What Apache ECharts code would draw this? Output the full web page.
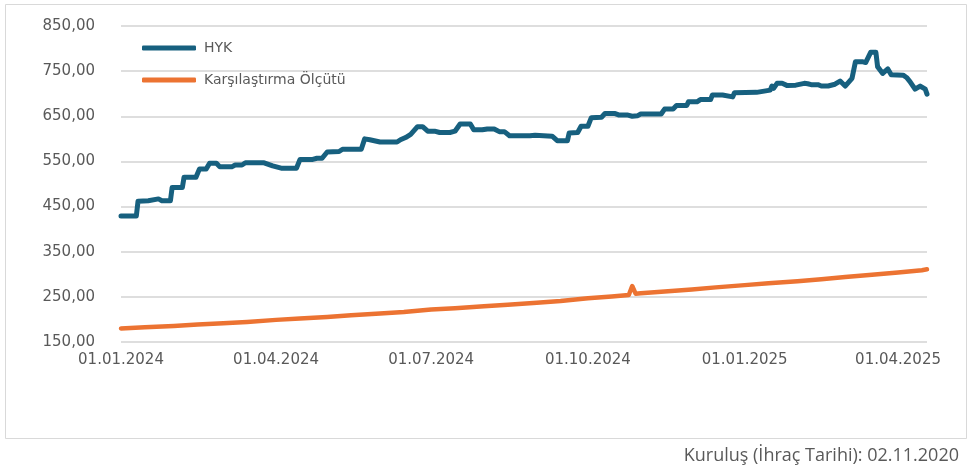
<!DOCTYPE html>
<html>
<head>
<meta charset="utf-8">
<script src="https://cdn.jsdelivr.net/npm/echarts@6/dist/echarts.min.js"></script>
<style>
  html, body { margin: 0; padding: 0; background: #ffffff; }
  #chart { width: 967px; height: 466px; }
</style>
</head>
<body>
<div id="chart"></div>
<script>
// Fund price (HYK), observation dates and values
const hykDates = [
  '2024-01-01','2024-01-10','2024-01-11','2024-01-17','2024-01-18','2024-01-23','2024-01-25','2024-01-30',
  '2024-01-31','2024-02-06','2024-02-07','2024-02-14','2024-02-16','2024-02-20','2024-02-22','2024-02-26',
  '2024-02-28','2024-03-06','2024-03-08','2024-03-12','2024-03-14','2024-03-25','2024-03-30','2024-04-04',
  '2024-04-13','2024-04-15','2024-04-22','2024-04-25','2024-04-28','2024-05-01','2024-05-08','2024-05-10',
  '2024-05-21','2024-05-23','2024-05-26','2024-06-01','2024-06-11','2024-06-13','2024-06-16','2024-06-19',
  '2024-06-23','2024-06-26','2024-06-29','2024-07-03','2024-07-06','2024-07-12','2024-07-15','2024-07-16',
  '2024-07-18','2024-07-24','2024-07-26','2024-07-31','2024-08-03','2024-08-07','2024-08-10','2024-08-13',
  '2024-08-16','2024-08-28','2024-08-29','2024-08-31','2024-09-10','2024-09-13','2024-09-19','2024-09-20',
  '2024-09-25','2024-09-27','2024-10-01','2024-10-03','2024-10-09','2024-10-11','2024-10-17','2024-10-19',
  '2024-10-24','2024-10-27','2024-10-30','2024-11-01','2024-11-13','2024-11-15','2024-11-20','2024-11-22',
  '2024-11-28','2024-11-29','2024-12-04','2024-12-06','2024-12-12','2024-12-13','2024-12-19','2024-12-20',
  '2024-12-25','2024-12-26','2025-01-08','2025-01-09','2025-01-16','2025-01-17','2025-01-18','2025-01-20',
  '2025-01-23','2025-01-26','2025-01-31','2025-02-05','2025-02-07','2025-02-09','2025-02-13','2025-02-15',
  '2025-02-19','2025-02-20','2025-02-23','2025-02-26','2025-03-01','2025-03-05','2025-03-07','2025-03-11',
  '2025-03-13','2025-03-16','2025-03-19','2025-03-20','2025-03-23','2025-03-26','2025-03-28','2025-04-04',
  '2025-04-06','2025-04-08','2025-04-11','2025-04-14','2025-04-17','2025-04-18'
];
const hykValues = [
  429, 429, 462, 463, 467, 467, 463, 463,
  492, 492, 515, 515, 533, 533, 546, 546,
  538, 538, 542, 542, 547, 547, 540, 535,
  535, 554, 554, 557, 557, 571, 572, 577,
  577, 600, 598, 593, 593, 598, 603, 610,
  627, 627, 617, 617, 614, 614, 617, 617,
  633, 633, 620, 620, 622, 622, 616, 616,
  607, 607, 605, 608, 606, 596, 596, 613,
  614, 628, 628, 647, 648, 656, 656, 653,
  653, 650, 651, 655, 655, 666, 666, 674,
  674, 682, 682, 687, 687, 697, 697, 693,
  693, 702, 703, 707, 708, 717, 712, 723,
  723, 718, 719, 723, 722, 720, 720, 717,
  717, 715, 721, 728, 717, 734, 771, 771,
  769, 792, 792, 760, 745, 755, 742, 741,
  736, 727, 710, 717, 710, 699
];

// Benchmark (Karşılaştırma Ölçütü), observation dates and values
const benchDates = [
  '2024-01-01','2024-01-15','2024-02-01','2024-02-15','2024-03-01','2024-03-15','2024-04-01','2024-04-15',
  '2024-05-01','2024-05-15','2024-06-01','2024-06-15','2024-07-01','2024-07-15','2024-08-01','2024-08-15',
  '2024-09-01','2024-09-15','2024-10-01','2024-10-15','2024-10-25','2024-10-27','2024-10-29','2024-11-01',
  '2024-11-15','2024-12-01','2024-12-15','2025-01-01','2025-01-15','2025-02-01','2025-02-15','2025-03-01',
  '2025-03-15','2025-04-01','2025-04-15','2025-04-18'
];
const benchValues = [
  180, 182.5, 185.5, 188.5, 191.5, 194.5, 199, 202,
  205.5, 209, 213, 216.5, 222, 225, 229, 232.5,
  237, 241, 247, 251, 254, 274, 257, 258,
  262, 266.5, 271, 276, 280, 284.5, 289, 294,
  298.5, 304, 309, 311
];

// Axis settings
const seriesNames = ['HYK', 'Karşılaştırma Ölçütü'];
const xTickDates = ['2024-01-01','2024-04-01','2024-07-01','2024-10-01','2025-01-01','2025-04-01'];
const xStart = '2024-01-01';
const xEnd = '2025-04-18';
const yMin = 150;
const yMax = 850;
const yStep = 100;
const footnote = 'Kuruluş (İhraç Tarihi): 02.11.2020';

function toTime(s) {
  const p = s.split('-').map(Number);
  return new Date(p[0], p[1] - 1, p[2]).getTime();
}
function pairs(dates, values) {
  return dates.map((d, i) => [toTime(d), values[i]]);
}
function pad2(n) { return (n < 10 ? '0' : '') + n; }

const textColor = '#595959';
const axisFont = 'DejaVu Sans';

const chart = echarts.init(document.getElementById('chart'), null, { renderer: 'canvas' });

chart.setOption({
  animation: false,
  backgroundColor: '#ffffff',
  grid: { left: 121, right: 40, top: 26, bottom: 124, containLabel: false },
  legend: {
    orient: 'vertical',
    left: 142,
    top: 40,
    padding: 0,
    itemWidth: 54,
    itemHeight: 5,
    itemGap: 16,
    icon: 'roundRect',
    data: seriesNames,
    textStyle: { color: textColor, fontFamily: axisFont, fontSize: 14, lineHeight: 16, padding: [0, 0, 0, 3] }
  },
  xAxis: {
    type: 'value',
    min: toTime(xStart),
    max: toTime(xEnd),
    axisLine: { show: false },
    axisTick: { show: false },
    splitLine: { show: false },
    axisLabel: {
      customValues: xTickDates.map(toTime),
      color: textColor,
      fontFamily: axisFont,
      fontSize: 15,
      margin: 11,
      showMinLabel: true,
      showMaxLabel: true,
      hideOverlap: false,
      formatter: function (v) {
        const d = new Date(v);
        return pad2(d.getDate()) + '.' + pad2(d.getMonth() + 1) + '.' + d.getFullYear();
      }
    }
  },
  yAxis: {
    type: 'value',
    min: yMin,
    max: yMax,
    interval: yStep,
    axisLine: { show: false },
    axisTick: { show: false },
    splitLine: { lineStyle: { color: '#dedede', width: 2 } },
    axisLabel: {
      color: textColor,
      fontFamily: axisFont,
      fontSize: 15,
      margin: 26,
      formatter: function (v) { return v.toFixed(2).replace('.', ','); }
    }
  },
  series: [
    {
      name: seriesNames[0],
      type: 'line',
      data: pairs(hykDates, hykValues),
      showSymbol: false,
      symbol: 'none',
      color: '#17607f',
      lineStyle: { color: '#17607f', width: 5, cap: 'round', join: 'round' },
      z: 3
    },
    {
      name: seriesNames[1],
      type: 'line',
      data: pairs(benchDates, benchValues),
      showSymbol: false,
      symbol: 'none',
      color: '#ec7332',
      lineStyle: { color: '#ec7332', width: 4.5, cap: 'round', join: 'round' },
      z: 2
    }
  ],
  graphic: [
    {
      type: 'rect',
      silent: true,
      shape: { x: 5.5, y: 4.5, width: 961, height: 434 },
      style: { fill: null, stroke: '#d9d9d9', lineWidth: 1 }
    },
    {
      type: 'text',
      right: 8,
      top: 447,
      style: { text: footnote, fill: textColor, font: '18px "Open Sans"' }
    }
  ]
});
</script>
</body>
</html>
